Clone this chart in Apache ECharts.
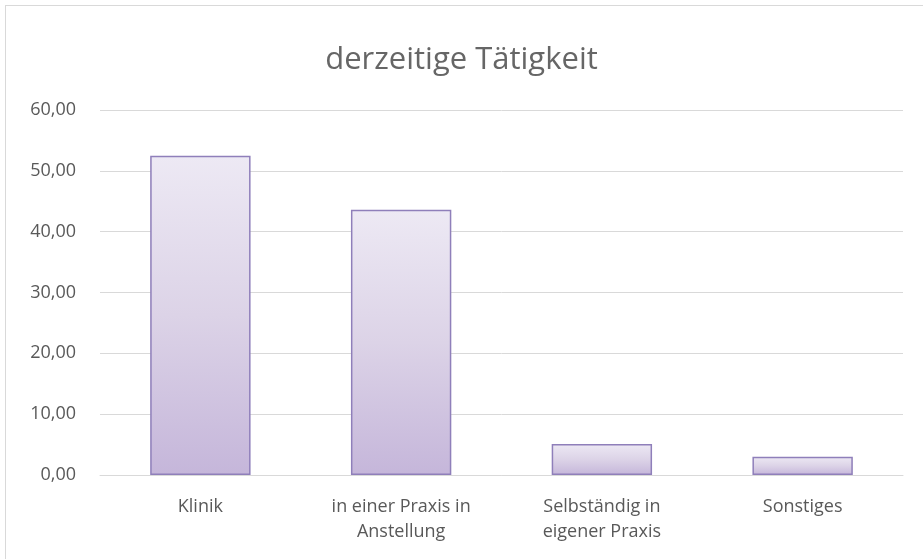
<!DOCTYPE html>
<html>
<head>
<meta charset="utf-8">
<script src="https://cdn.jsdelivr.net/npm/echarts@6/dist/echarts.min.js"></script>
<style>
  html, body { margin: 0; padding: 0; background: #fff; overflow: hidden; }
  #frame {
    position: absolute; left: 5px; top: 5px;
    width: 930px; height: 570px;
    border-left: 1px solid #d9d9d9;
    border-top: 1px solid #d9d9d9;
  }
  #chart { position: absolute; left: 0; top: 0; width: 923px; height: 559px; }
</style>
</head>
<body>
<div id="frame"></div>
<div id="chart"></div>
<script>
// Kategorien und Werte
const categories = ["Klinik", "in einer Praxis in\nAnstellung", "Selbständig in\neigener Praxis", "Sonstiges"];
const values = [52.5, 43.6, 5.1, 3.0];
const yTicks = { min: 0, max: 60, interval: 10 };

const chart = echarts.init(document.getElementById("chart"), null, { renderer: "canvas" });

chart.setOption({
  animation: false,
  title: {
    text: "derzeitige Tätigkeit",
    left: "center",
    top: 40,
    textStyle: {
      fontFamily: "Open Sans",
      fontSize: 31,
      fontWeight: "normal",
      color: "#666666"
    }
  },
  grid: {
    left: 100,
    right: 20,
    top: 110,
    bottom: 84
  },
  xAxis: {
    type: "category",
    data: categories,
    axisLine: { show: true, lineStyle: { color: "#d9d9d9", width: 1 } },
    axisTick: { show: false },
    axisLabel: {
      margin: 19,
      fontFamily: "Open Sans",
      fontSize: 18,
      lineHeight: 25,
      color: "#595959"
    }
  },
  yAxis: {
    type: "value",
    min: yTicks.min,
    max: yTicks.max,
    interval: yTicks.interval,
    axisLine: { show: false },
    axisTick: { show: false },
    splitLine: { lineStyle: { color: "#d9d9d9", width: 1 } },
    axisLabel: {
      margin: 24,
      fontFamily: "Open Sans",
      fontSize: 18,
      color: "#595959",
      formatter: function (v) {
        return v.toFixed(2).replace(".", ",");
      }
    }
  },
  series: [
    {
      type: "bar",
      data: values,
      barWidth: "50%",
      itemStyle: {
        color: new echarts.graphic.LinearGradient(0, 0, 0, 1, [
          { offset: 0, color: "#ede9f4" },
          { offset: 0.5, color: "#dcd3e7" },
          { offset: 1, color: "#c5b6da" }
        ]),
        borderColor: "#8f7fba",
        borderWidth: 1.5
      }
    }
  ]
});
</script>
</body>
</html>
